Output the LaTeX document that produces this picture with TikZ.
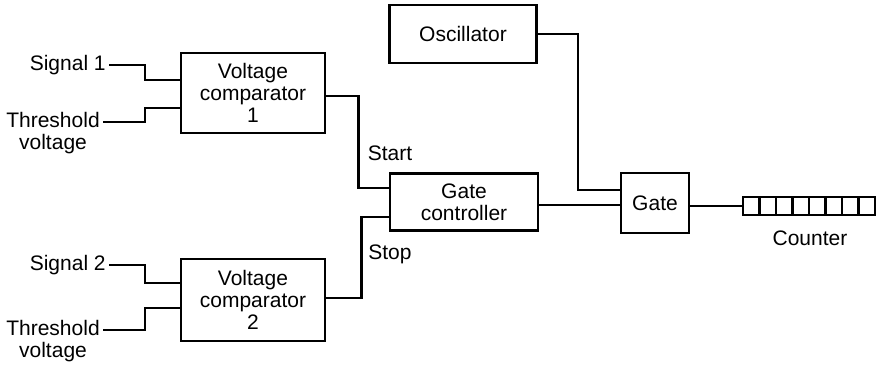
\documentclass[tikz,border=0pt]{standalone}
\usepackage{fontspec}
\setmainfont{Liberation Sans}
\begin{document}
\begin{tikzpicture}[
    x=1pt, y=-1pt,
    line width=2.6pt,
    every node/.style={font=\fontsize{21}{22}\selectfont},
    block/.style={draw, align=center, inner sep=1pt},
    lbl/.style={inner sep=2pt, align=center},
    cell/.style={draw, minimum width=16.5pt, minimum height=18pt, inner sep=0pt, line width=2.6pt}
]
\useasboundingbox (0,0) rectangle (876,369);

% Blocks
\node[block, minimum width=144pt, minimum height=80pt] (comp1) at (253,93) {Voltage\\comparator\\1};
\node[block, minimum width=144pt, minimum height=82pt] (comp2) at (253,300) {Voltage\\comparator\\2};
\node[block, minimum width=147pt, minimum height=58pt] (osc) at (463,34) {Oscillator};
\node[block, minimum width=148pt, minimum height=57pt] (gc) at (464,202) {Gate\\controller};
\node[block, minimum width=68pt, minimum height=60pt] (gate) at (655,203) {Gate};

% Counter
\foreach \i in {0,...,7}
    \node[cell] (c\i) at (751.25+16.5*\i,206) {};
\node (cnt) at (810,238) {Counter};

% Inputs
\node[lbl, anchor=east] (sig1) at (109,65) {Signal 1};
\node[lbl, anchor=east] (thr1) at (103,133) {Threshold\\voltage};
\node[lbl, anchor=east] (sig2) at (109,265) {Signal 2};
\node[lbl, anchor=east] (thr2) at (103,341) {Threshold\\voltage};

% Start / Stop
\node (start) at (390,153) {Start};
\node (stop) at (390,254) {Stop};

% Connections
\draw (sig1.east) -- ++(36,0) |- ([yshift=13pt]comp1.west);
\draw ([yshift=11pt]thr1.east) -- ++(42,0) |- ([yshift=-15pt]comp1.west);
\draw (sig2.east) -- ++(36,0) |- ([yshift=17pt]comp2.west);
\draw ([yshift=11pt]thr2.east) -- ++(42,0) |- ([yshift=-8pt]comp2.west);
\draw ([yshift=-3pt]comp1.east) -- ++(32,0) |- ([yshift=14pt]gc.west);
\draw ([yshift=2pt]comp2.east) -- ++(35,0) |- ([yshift=-15pt]gc.west);
\draw (osc.east) -- ++(40,0) |- ([yshift=13pt]gate.west);
\draw ([yshift=-3pt]gc.east) -- ([yshift=-3pt]gc.east -| gate.west);
\draw ([yshift=-3pt]gate.east) -- (c0.west);
\end{tikzpicture}
\end{document}
